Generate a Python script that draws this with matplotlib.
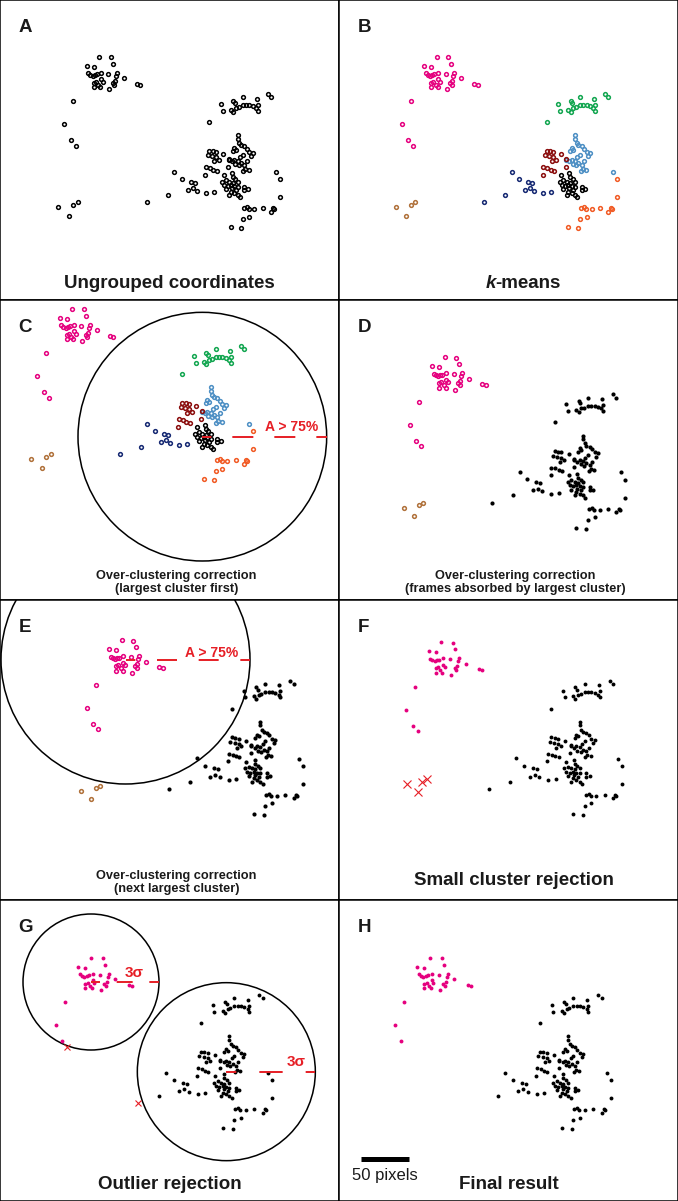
import matplotlib.pyplot as plt
import numpy as np
from matplotlib.patches import Circle

plt.rcParams['font.family'] = ['Liberation Sans', 'DejaVu Sans']
plt.rcParams['lines.scale_dashes'] = False

# frame coordinates of the tracked positions (image units, y pointing down)
pink_x = [293, 328, 335, 255, 276, 260, 266, 273, 280, 286, 298, 320, 346, 343, 366, 298,
          303, 283, 276, 290, 276, 296, 323, 333, 340, 338, 406, 416, 215, 188, 207, 222]
pink_y = [170, 172, 192, 197, 200, 220, 225, 228, 225, 223, 218, 222, 218, 228, 235, 238,
          245, 245, 248, 255, 262, 262, 268, 248, 242, 255, 252, 254, 304, 373, 421, 437]
green_x = [623, 658, 663, 695, 700, 723, 688, 695, 703, 711, 723, 733, 743, 753, 763, 768,
           765, 768, 798, 808]
green_y = [366, 312, 332, 302, 309, 292, 329, 336, 324, 322, 316, 316, 316, 319, 324, 314,
           296, 332, 282, 292]
lblue_x = [708, 708, 713, 718, 728, 735, 743, 753, 748, 698, 703, 693, 681, 691, 698, 708,
           701, 711, 718, 728, 735, 731, 741, 725, 823, 723, 715]
lblue_y = [406, 416, 429, 436, 439, 446, 456, 459, 469, 444, 449, 454, 479, 484, 479, 482,
           492, 496, 489, 494, 484, 506, 509, 512, 516, 464, 472]
dred_x = [623, 633, 643, 618, 631, 643, 651, 638, 665, 681, 613, 625, 635, 645, 611, 680]
dred_y = [452, 454, 456, 466, 469, 472, 479, 484, 462, 476, 502, 504, 509, 512, 524, 500]
navy_x = [518, 541, 568, 580, 558, 573, 586, 498, 613, 636, 435]
navy_y = [515, 537, 545, 548, 570, 565, 572, 585, 580, 577, 607]
black_x = [666, 691, 693, 673, 683, 693, 701, 708, 668, 678, 688, 698, 708, 673, 688, 698,
           708, 715, 728, 738, 728, 691, 703, 683, 662]
black_y = [525, 520, 532, 540, 545, 548, 538, 545, 555, 558, 555, 558, 560, 568, 575, 580,
           585, 592, 560, 568, 570, 565, 570, 585, 545]
orange_x = [726, 741, 758, 783, 808, 818, 835, 835, 723, 743, 688, 718, 815, 735]
orange_y = [625, 628, 628, 625, 635, 628, 538, 592, 658, 650, 682, 685, 625, 622]
brown_x = [170, 202, 215, 228]
brown_y = [622, 647, 615, 607]

pink_outlier = 31   # index in pink
navy_outlier = 10   # index in navy (part of the large cluster)

PINK = '#e5007e'
GREEN = '#12a650'
LBLUE = '#4d8fc4'
DRED = '#8b0d0d'
NAVY = '#152872'
ORANGE = '#f15a24'
BROWN = '#b0713a'
RED = '#e61e25'

kmeans = [(pink_x, pink_y, PINK), (green_x, green_y, GREEN), (lblue_x, lblue_y, LBLUE),
          (dred_x, dred_y, DRED), (navy_x, navy_y, NAVY), (black_x, black_y, 'black'),
          (orange_x, orange_y, ORANGE), (brown_x, brown_y, BROWN)]

main_x = green_x + lblue_x + dred_x + navy_x + black_x + orange_x
main_y = green_y + lblue_y + dred_y + navy_y + black_y + orange_y
main_outlier = len(green_x) + len(lblue_x) + len(dred_x) + navy_outlier

W, H = 678, 1201
fig = plt.figure(figsize=(W / 100, H / 100), dpi=100)


def panel(col, row):
    h = 301 if row == 3 else 300
    ax = fig.add_axes([col * 339 / W, 1 - (300 * row + h) / H, 339 / W, h / H])
    ax.set_xlim(0, 1017)
    ax.set_ylim(3 * h, 0)
    ax.set_xticks([])
    ax.set_yticks([])
    for s in ax.spines.values():
        s.set_linewidth(1.1)
    return ax


def ring(ax, x, y, c, off):
    ax.plot(np.add(x, off[0]), np.add(y, off[1]), 'o', ls='none', mfc='none', mec=c,
            ms=2.7, mew=1.1)


def dot(ax, x, y, c, off, ms=3.0):
    ax.plot(np.add(x, off[0]), np.add(y, off[1]), 'o', ls='none', mfc=c, mec='none', ms=ms)


def cross(ax, x, y, off, ms=4.5):
    ax.plot(np.add(x, off[0]), np.add(y, off[1]), 'x', ls='none', mec=RED, ms=ms, mew=0.8)


def drop(v, i):
    return [a for k, a in enumerate(v) if k != i]


def radius(ax, cx, cy, r, on, gap, first_end):
    k = 0.24  # frame units -> points
    ax.add_patch(Circle((cx, cy), r, fill=False, ec='black', lw=1.1))
    ax.plot([cx, cx + r], [cy, cy], color=RED, lw=1.4, solid_capstyle='butt',
            dash_capstyle='butt', linestyle=((on - first_end) * k, (on * k, gap * k)), zorder=5)


def letter(ax, s):
    ax.text(55, 97, s, fontsize=13.5, fontweight='bold', va='baseline', color='#1a1a1a')


def title(ax, s, x=508, y=865):
    ax.text(x, y, s, fontsize=13.5, fontweight='bold', ha='center', va='baseline',
            color='#1a1a1a')


def subtitle(ax, l1, l2):
    ax.text(530, 838, l1, fontsize=9.2, fontweight='bold', ha='center', va='baseline',
            color='#1a1a1a')
    ax.text(530, 877, l2, fontsize=9.2, fontweight='bold', ha='center', va='baseline',
            color='#1a1a1a')


def redlabel(ax, x, y, s, size=10):
    ax.text(x, y, s, fontsize=size, fontweight='bold', ha='center', va='baseline', color=RED)


# A
ax = panel(0, 0)
for x, y, c in kmeans:
    ring(ax, x, y, 'black', (5, 0))
letter(ax, 'A')
title(ax, 'Ungrouped coordinates')

# B
ax = panel(1, 0)
for x, y, c in kmeans:
    ring(ax, x, y, c, (0, 0))
letter(ax, 'B')
ax.text(470, 865, 'k', fontsize=13.5, fontweight='bold', style='italic', ha='right',
        va='baseline', color='#1a1a1a')
ax.text(470, 865, '-means', fontsize=13.5, fontweight='bold', ha='left', va='baseline',
        color='#1a1a1a')

# C
ax = panel(0, 1)
for x, y, c in kmeans:
    ring(ax, x, y, c, (-76, -144))
radius(ax, 607, 410, 373, 63, 63, 28)
redlabel(ax, 875, 393, 'A > 75%')
letter(ax, 'C')
subtitle(ax, 'Over-clustering correction', '(largest cluster first)')

# D
ax = panel(1, 1)
ring(ax, pink_x, pink_y, PINK, (24, 1))
ring(ax, brown_x, brown_y, BROWN, (24, 1))
dot(ax, main_x, main_y, 'black', (24, 1))
letter(ax, 'D')
subtitle(ax, 'Over-clustering correction', '(frames absorbed by largest cluster)')

# E
ax = panel(0, 2)
ring(ax, pink_x, pink_y, PINK, (72, -50))
ring(ax, brown_x, brown_y, BROWN, (72, -50))
dot(ax, main_x, main_y, 'black', (73, -40))
radius(ax, 376.5, 178.5, 373.5, 60, 65, 28)
redlabel(ax, 636, 170, 'A > 75%')
letter(ax, 'E')
subtitle(ax, 'Over-clustering correction', '(next largest cluster)')

# F
ax = panel(1, 2)
dot(ax, pink_x, pink_y, PINK, (14, -44), ms=2.8)
dot(ax, main_x, main_y, 'black', (14, -40), ms=2.8)
cross(ax, brown_x, brown_y, (35, -70), ms=5.5)
letter(ax, 'F')
title(ax, 'Small cluster rejection', x=526, y=856)

# G
ax = panel(0, 3)
dot(ax, drop(pink_x, pink_outlier), drop(pink_y, pink_outlier), PINK, (-20, 3), ms=2.8)
dot(ax, drop(main_x, main_outlier), drop(main_y, main_outlier), 'black', (-20, 3), ms=2.8)
cross(ax, [pink_x[pink_outlier], main_x[main_outlier]],
      [pink_y[pink_outlier], main_y[main_outlier]], (-20, 3))
radius(ax, 273, 246, 204, 48, 50, 27)
radius(ax, 679, 515, 267, 70, 69, 31)
redlabel(ax, 402, 230, '3σ', size=11)
redlabel(ax, 888, 498, '3σ', size=11)
letter(ax, 'G')
title(ax, 'Outlier rejection', x=509, y=866)

# H
ax = panel(1, 3)
dot(ax, drop(pink_x, pink_outlier), drop(pink_y, pink_outlier), PINK, (-20, 3), ms=2.8)
dot(ax, drop(main_x, main_outlier), drop(main_y, main_outlier), 'black', (-20, 3), ms=2.8)
bar_len = 145  # 50 image pixels
ax.plot([65, 65 + bar_len], [777, 777], color='black', lw=3.6, solid_capstyle='butt')
ax.text(65 + bar_len / 2, 840, '50 pixels', fontsize=12, ha='center', va='baseline',
        color='#1a1a1a')
letter(ax, 'H')
title(ax, 'Final result', x=510, y=867)

fig.savefig('out.png', dpi=100)
